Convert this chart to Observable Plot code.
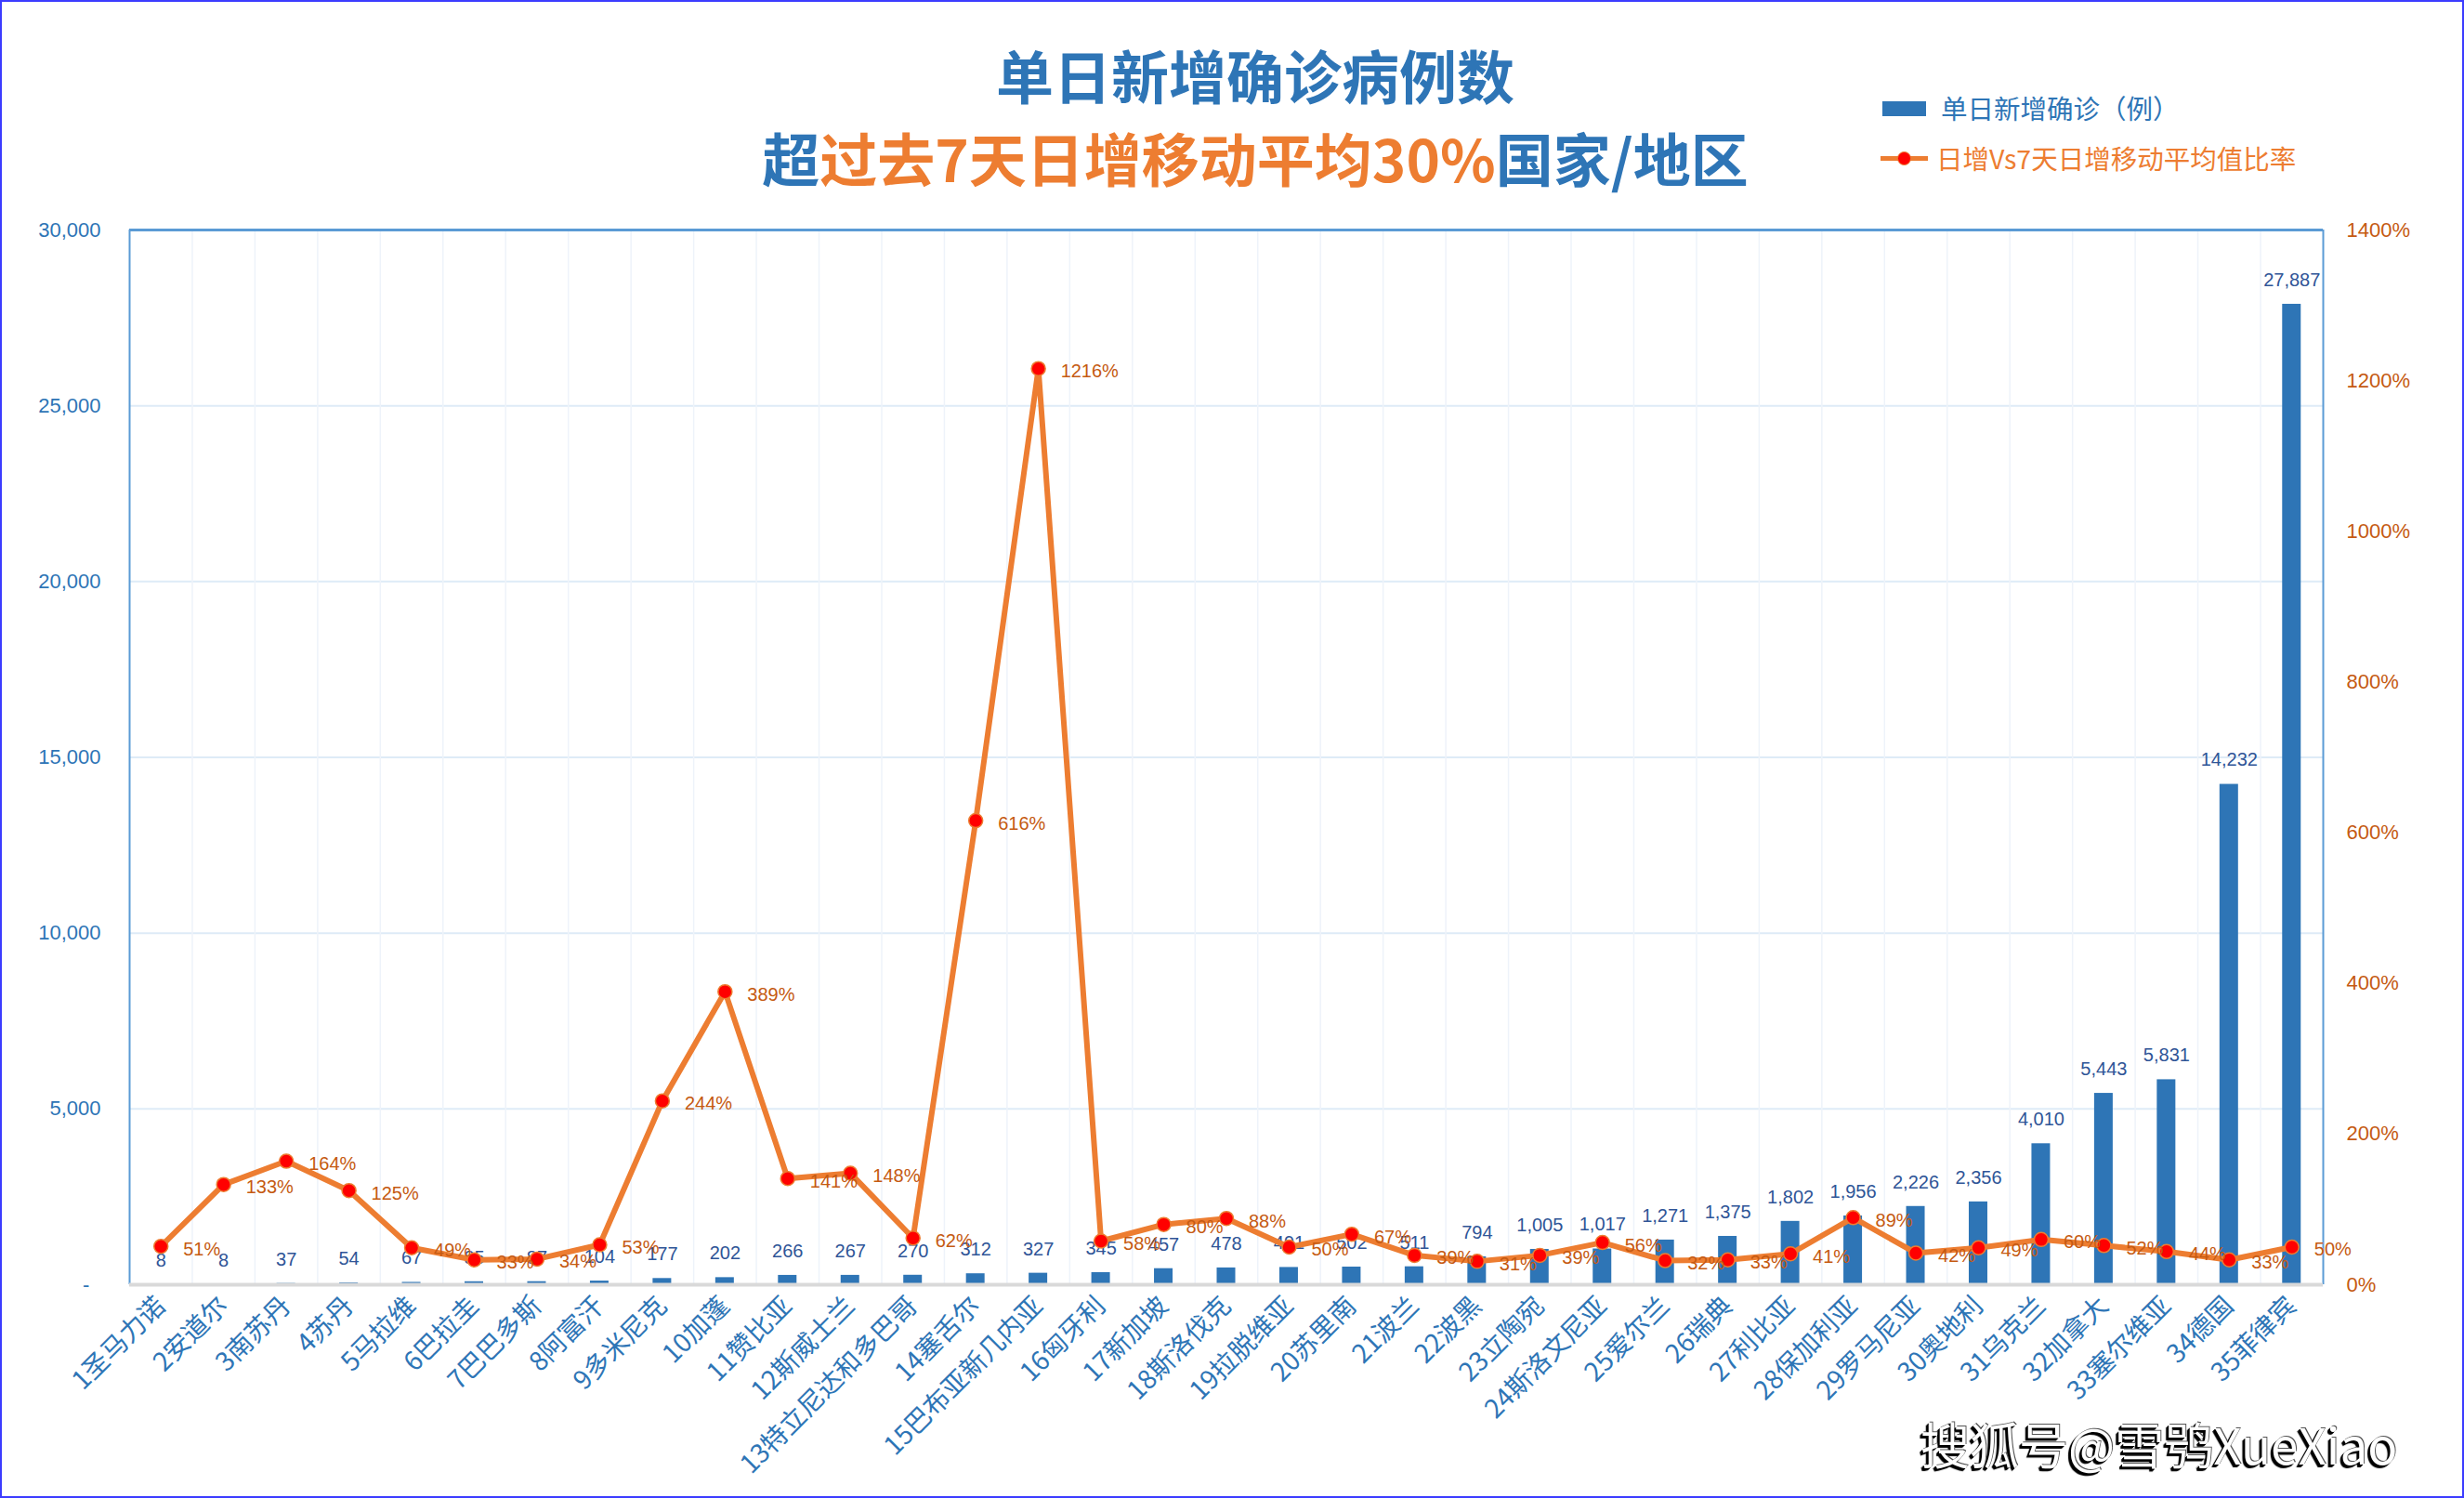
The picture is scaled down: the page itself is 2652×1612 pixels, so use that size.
<!DOCTYPE html>
<html><head><meta charset="utf-8">
<script src="https://cdn.jsdelivr.net/npm/d3@7"></script>
<script src="https://cdn.jsdelivr.net/npm/@observablehq/plot@0.6"></script>
<style>
html,body{margin:0;padding:0;background:#fff;}
#wrap{position:relative;width:2652px;height:1612px;overflow:hidden;background:#fff;}
#border{position:absolute;left:0;top:0;width:2652px;height:1612px;box-sizing:border-box;border:2px solid #3c3cff;pointer-events:none;}
#chart{position:absolute;left:0;top:0;}
.t{position:absolute;white-space:nowrap;font-family:"Noto Sans CJK SC","Liberation Sans",sans-serif;}
.title{font-size:62px;font-weight:bold;line-height:62px;transform:translateX(-50%);color:#2E75B6;}
.or{color:#ED7D31;}
.leg{font-size:28.5px;line-height:28px;}
</style></head>
<body>
<div id="wrap">
  <div id="chart"></div>
  <div class="t title" style="left:1351px;top:49px;">单日新增确诊病例数</div>
  <div class="t title" style="left:1351px;top:138px;">超<span class="or">过去7天日增移动平均30%</span>国家/地区</div>
  <div class="t" style="left:2026px;top:109px;width:47px;height:16px;background:#2E75B6;"></div>
  <div class="t leg" style="left:2089px;top:102px;color:#2E75B6;">单日新增确诊（例）</div>
  <div class="t" style="left:2024px;top:168px;width:51px;height:5px;background:#ED7D31;"></div>
  <div class="t" style="left:2042px;top:163px;width:13px;height:13px;border-radius:50%;background:#FF0000;border:1px solid #ED7D31;"></div>
  <div class="t leg" style="left:2084px;top:156px;color:#ED7D31;">日增Vs7天日增移动平均值比率</div>
  <div class="t" style="left:2067px;top:1524px;font-size:53px;line-height:58px;color:#fff;text-shadow:-2px 2px 0 #000,-1px 1px 0 #000,1px -1px 0 #555,-3px 3px 1px #000;">搜狐号@雪鸮XueXiao</div>
  <div id="border"></div>
</div>
<script>
const categories = ["1圣马力诺","2安道尔","3南苏丹","4苏丹","5马拉维","6巴拉圭","7巴巴多斯","8阿富汗","9多米尼克","10加蓬","11赞比亚","12斯威士兰","13特立尼达和多巴哥","14塞舌尔","15巴布亚新几内亚","16匈牙利","17新加坡","18斯洛伐克","19拉脱维亚","20苏里南","21波兰","22波黑","23立陶宛","24斯洛文尼亚","25爱尔兰","26瑞典","27利比亚","28保加利亚","29罗马尼亚","30奥地利","31乌克兰","32加拿大","33塞尔维亚","34德国","35菲律宾"];
const dailyCases = [8,8,37,54,67,85,87,104,177,202,266,267,270,312,327,345,457,478,491,502,511,794,1005,1017,1271,1375,1802,1956,2226,2356,4010,5443,5831,14232,27887];
const ratioPct = [51,133,164,125,49,33,34,53,244,389,141,148,62,616,1216,58,80,88,50,67,39,31,39,56,32,33,41,89,42,49,60,52,44,33,50];
const leftTicks = [0,5000,10000,15000,20000,25000,30000];
const rightTicks = [0,200,400,600,800,1000,1200,1400];

const W = 2652, H = 1612;
const mL = 139, mR = 152, mT = 247, mB = 230;
const bw = (W - mL - mR) / categories.length;
const k = 30000 / 1400;
const data = categories.map((c, i) => ({name: c, value: dailyCases[i], ratio: ratioPct[i]}));
const fmt = d3.format(",");
const numFont = "'Liberation Sans', Arial, 'Noto Sans CJK SC', sans-serif";

const chart = Plot.plot({
  width: W, height: H,
  marginLeft: mL, marginRight: mR, marginTop: mT, marginBottom: mB,
  style: {fontFamily: numFont, background: "transparent", overflow: "visible"},
  x: {domain: categories, padding: 0, round: false, axis: null},
  y: {domain: [0, 30000], axis: null},
  marks: [
    Plot.ruleY(leftTicks.slice(1, -1), {stroke: "#DEEBF7", strokeWidth: 2}),
    Plot.ruleX(categories.slice(1), {dx: -bw / 2, stroke: "#EEF3FA", strokeWidth: 1.5}),
    Plot.ruleY([30000], {stroke: "#5B9BD5", strokeWidth: 3}),
    Plot.ruleX([categories[0]], {dx: -bw / 2, stroke: "#5B9BD5", strokeWidth: 2}),
    Plot.ruleX([categories[categories.length - 1]], {dx: bw / 2, stroke: "#5B9BD5", strokeWidth: 2}),
    Plot.barY(data, {x: "name", y: "value", fill: "#2E75B6", insetLeft: (bw - 20) / 2, insetRight: (bw - 20) / 2}),
    Plot.ruleY([0], {stroke: "#D9D9D9", strokeWidth: 4}),
    Plot.axisY(leftTicks, {anchor: "left", tickSize: 0, tickPadding: 31, fontSize: 22, fill: "#2E75B6",
      tickFormat: d => d === 0 ? "-\u00a0\u00a0" : fmt(d), label: null}),
    Plot.axisY(rightTicks.map(t => t * k), {anchor: "right", tickSize: 0, tickPadding: 25, fontSize: 22, fill: "#C55A11",
      tickFormat: d => Math.round(d / k) + "%", label: null}),
    Plot.axisX({tickRotate: -45, tickSize: 0, tickPadding: 18, fontSize: 28, fill: "#2E75B6", label: null,
      fontFamily: "'Noto Sans CJK SC', 'Liberation Sans', sans-serif"}),
    Plot.text(data, {x: "name", y: "value", text: d => fmt(d.value), dy: -26, fill: "#2F5597", fontSize: 20}),
    Plot.line(data, {x: "name", y: d => d.ratio * k, stroke: "#ED7D31", strokeWidth: 6}),
    Plot.dot(data, {x: "name", y: d => d.ratio * k, r: 7.5, fill: "#FF0000", stroke: "#ED7D31", strokeWidth: 1.5}),
    Plot.text(data, {x: "name", y: d => d.ratio * k, text: d => d.ratio + "%", dx: 24, dy: 3, textAnchor: "start", fill: "#C55A11", fontSize: 20})
  ]
});
document.getElementById("chart").appendChild(chart);
</script>
</body></html>
